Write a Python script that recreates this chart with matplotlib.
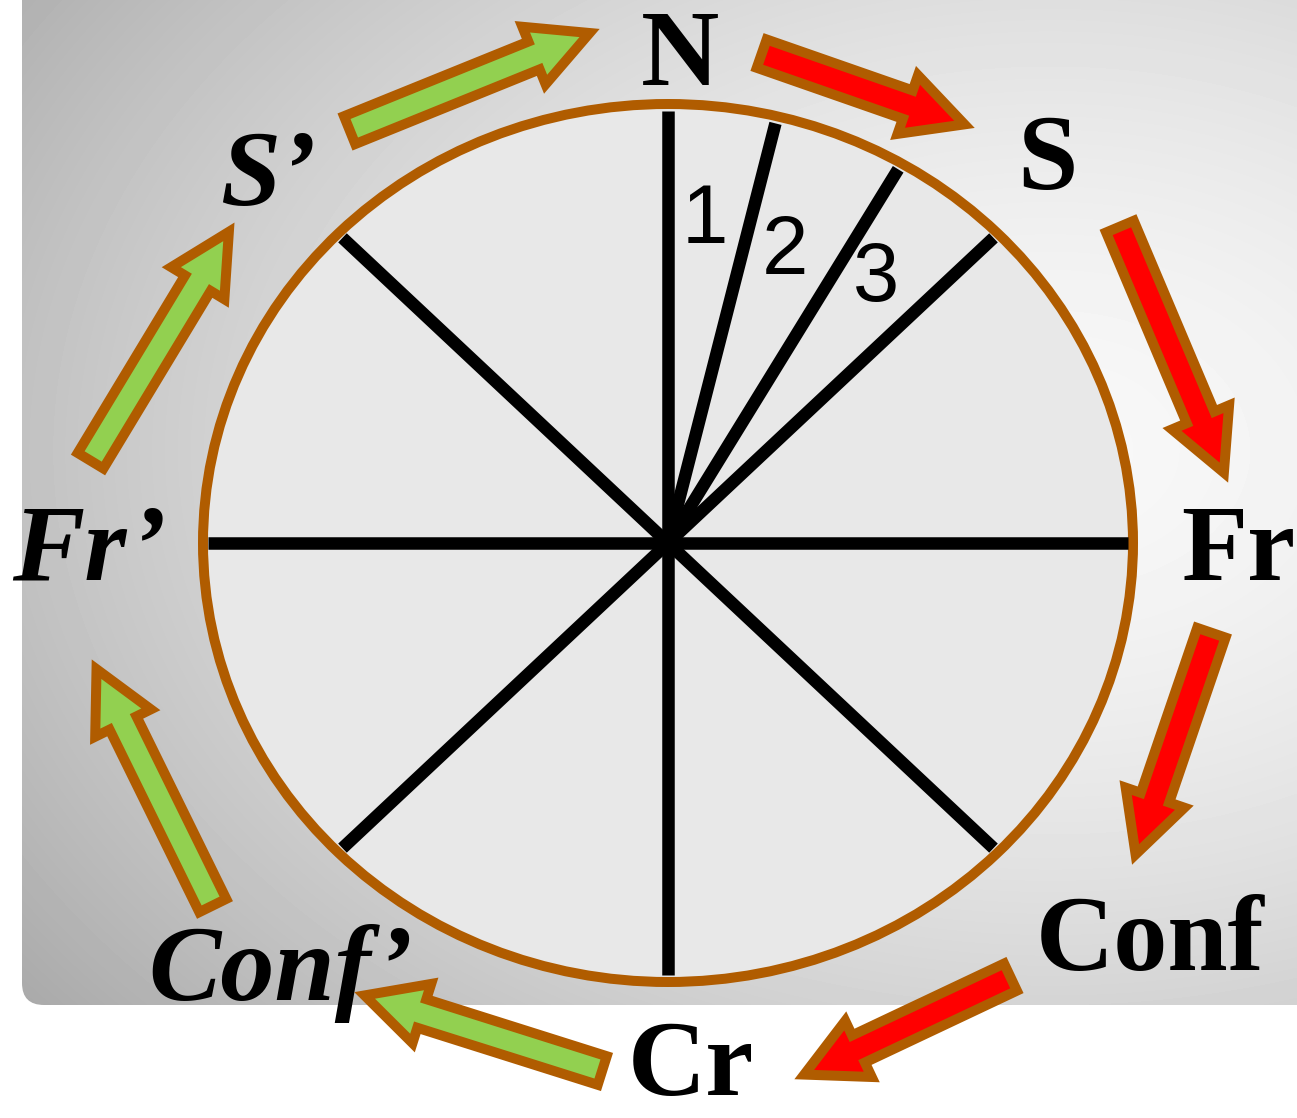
import numpy as np
import matplotlib.pyplot as plt
from matplotlib.patches import Ellipse, Polygon, FancyBboxPatch

W, H = 1297, 1118

# wheel
center = (668, 543)
radii = (465, 439)
spoke_angles = [90, 76.5, 60, 45, 0, -45, -90, -135, 180, 135]

# small sector numbers (x centre, baseline)
sector_numbers = ['1', '2', '3']
number_x = [705, 785, 876]
number_y = [243, 274, 301]

# stage labels round the wheel (x centre, baseline)
stages = ['N', 'S', 'Fr', 'Conf', 'Cr', 'Conf’', 'Fr’', 'S’']
stage_x = [680, 1047, 1238, 1150, 691, 281, 89, 268]
stage_y = [85, 189, 580, 970, 1095, 1000, 580, 205]
stage_italic = [False, False, False, False, False, True, True, True]

# arrows: tail -> tip
arrow_tail = [(757, 52), (1118, 222), (1213, 628), (1015, 975),
              (607, 1072), (215, 910), (88, 465), (345, 132)]
arrow_tip = [(972, 127), (1227, 480), (1133, 862), (797, 1078),
             (357, 993), (93, 662), (233, 225), (597, 30)]
arrow_fill = ['#ff0000'] * 4 + ['#92d050'] * 4

BROWN = '#b05c00'


def arrow_poly(tail, tip, w=30, hw=62, hl=60, shrink=8):
    p0 = np.array(tail, float)
    p1 = np.array(tip, float)
    d = p1 - p0
    u = d / np.hypot(*d)
    n = np.array([-u[1], u[0]])
    p0 = p0 + u * 5
    p1 = p1 - u * shrink
    b = p1 - u * hl
    return [p0 + n * w / 2, b + n * w / 2, b + n * hw / 2, p1,
            b - n * hw / 2, b - n * w / 2, p0 - n * w / 2]


fig = plt.figure(figsize=(W / 100, H / 100), dpi=100)
ax = fig.add_axes([0, 0, 1, 1])
ax.set_xlim(0, W)
ax.set_ylim(H, 0)
ax.axis('off')

# grey gradient panel
panel = FancyBboxPatch((22, -60), 1360, 1065, boxstyle='round,pad=0,rounding_size=22',
                       facecolor='none', edgecolor='none')
ax.add_patch(panel)
yy, xx = np.mgrid[0:H, 0:W]
dist = np.hypot((xx - 1050) / 1000, (yy - 450) / 700)
grad = (248 - 52 * dist ** 1.6) / 255
img = ax.imshow(grad, cmap='gray', vmin=0, vmax=1, extent=(0, W, H, 0),
                interpolation='bilinear', zorder=0)
img.set_clip_path(panel)

# wheel
ax.add_patch(Ellipse(center, 2 * radii[0], 2 * radii[1], facecolor='#e8e8e8',
                     edgecolor=BROWN, lw=7.2, zorder=1))
for a in spoke_angles:
    t = np.deg2rad(a)
    ex = center[0] + radii[0] * 0.99 * np.cos(t)
    ey = center[1] - radii[1] * 0.983 * np.sin(t)
    ax.plot([center[0], ex], [center[1], ey], color='black', lw=9,
            solid_capstyle='butt', zorder=2)

for s, x, y in zip(sector_numbers, number_x, number_y):
    ax.text(x, y, s, fontsize=60, family='Liberation Sans', ha='center',
            va='baseline', zorder=3)

for s, x, y, it in zip(stages, stage_x, stage_y, stage_italic):
    ax.text(x, y, s, fontsize=78, family='Liberation Serif', weight='bold',
            style='italic' if it else 'normal', ha='center', va='baseline', zorder=3)

for tail, tip, fc in zip(arrow_tail, arrow_tip, arrow_fill):
    ax.add_patch(Polygon(arrow_poly(tail, tip), closed=True, facecolor=fc,
                         edgecolor=BROWN, lw=7.2, joinstyle='miter', zorder=4))

fig.savefig('out.png', dpi=100)
